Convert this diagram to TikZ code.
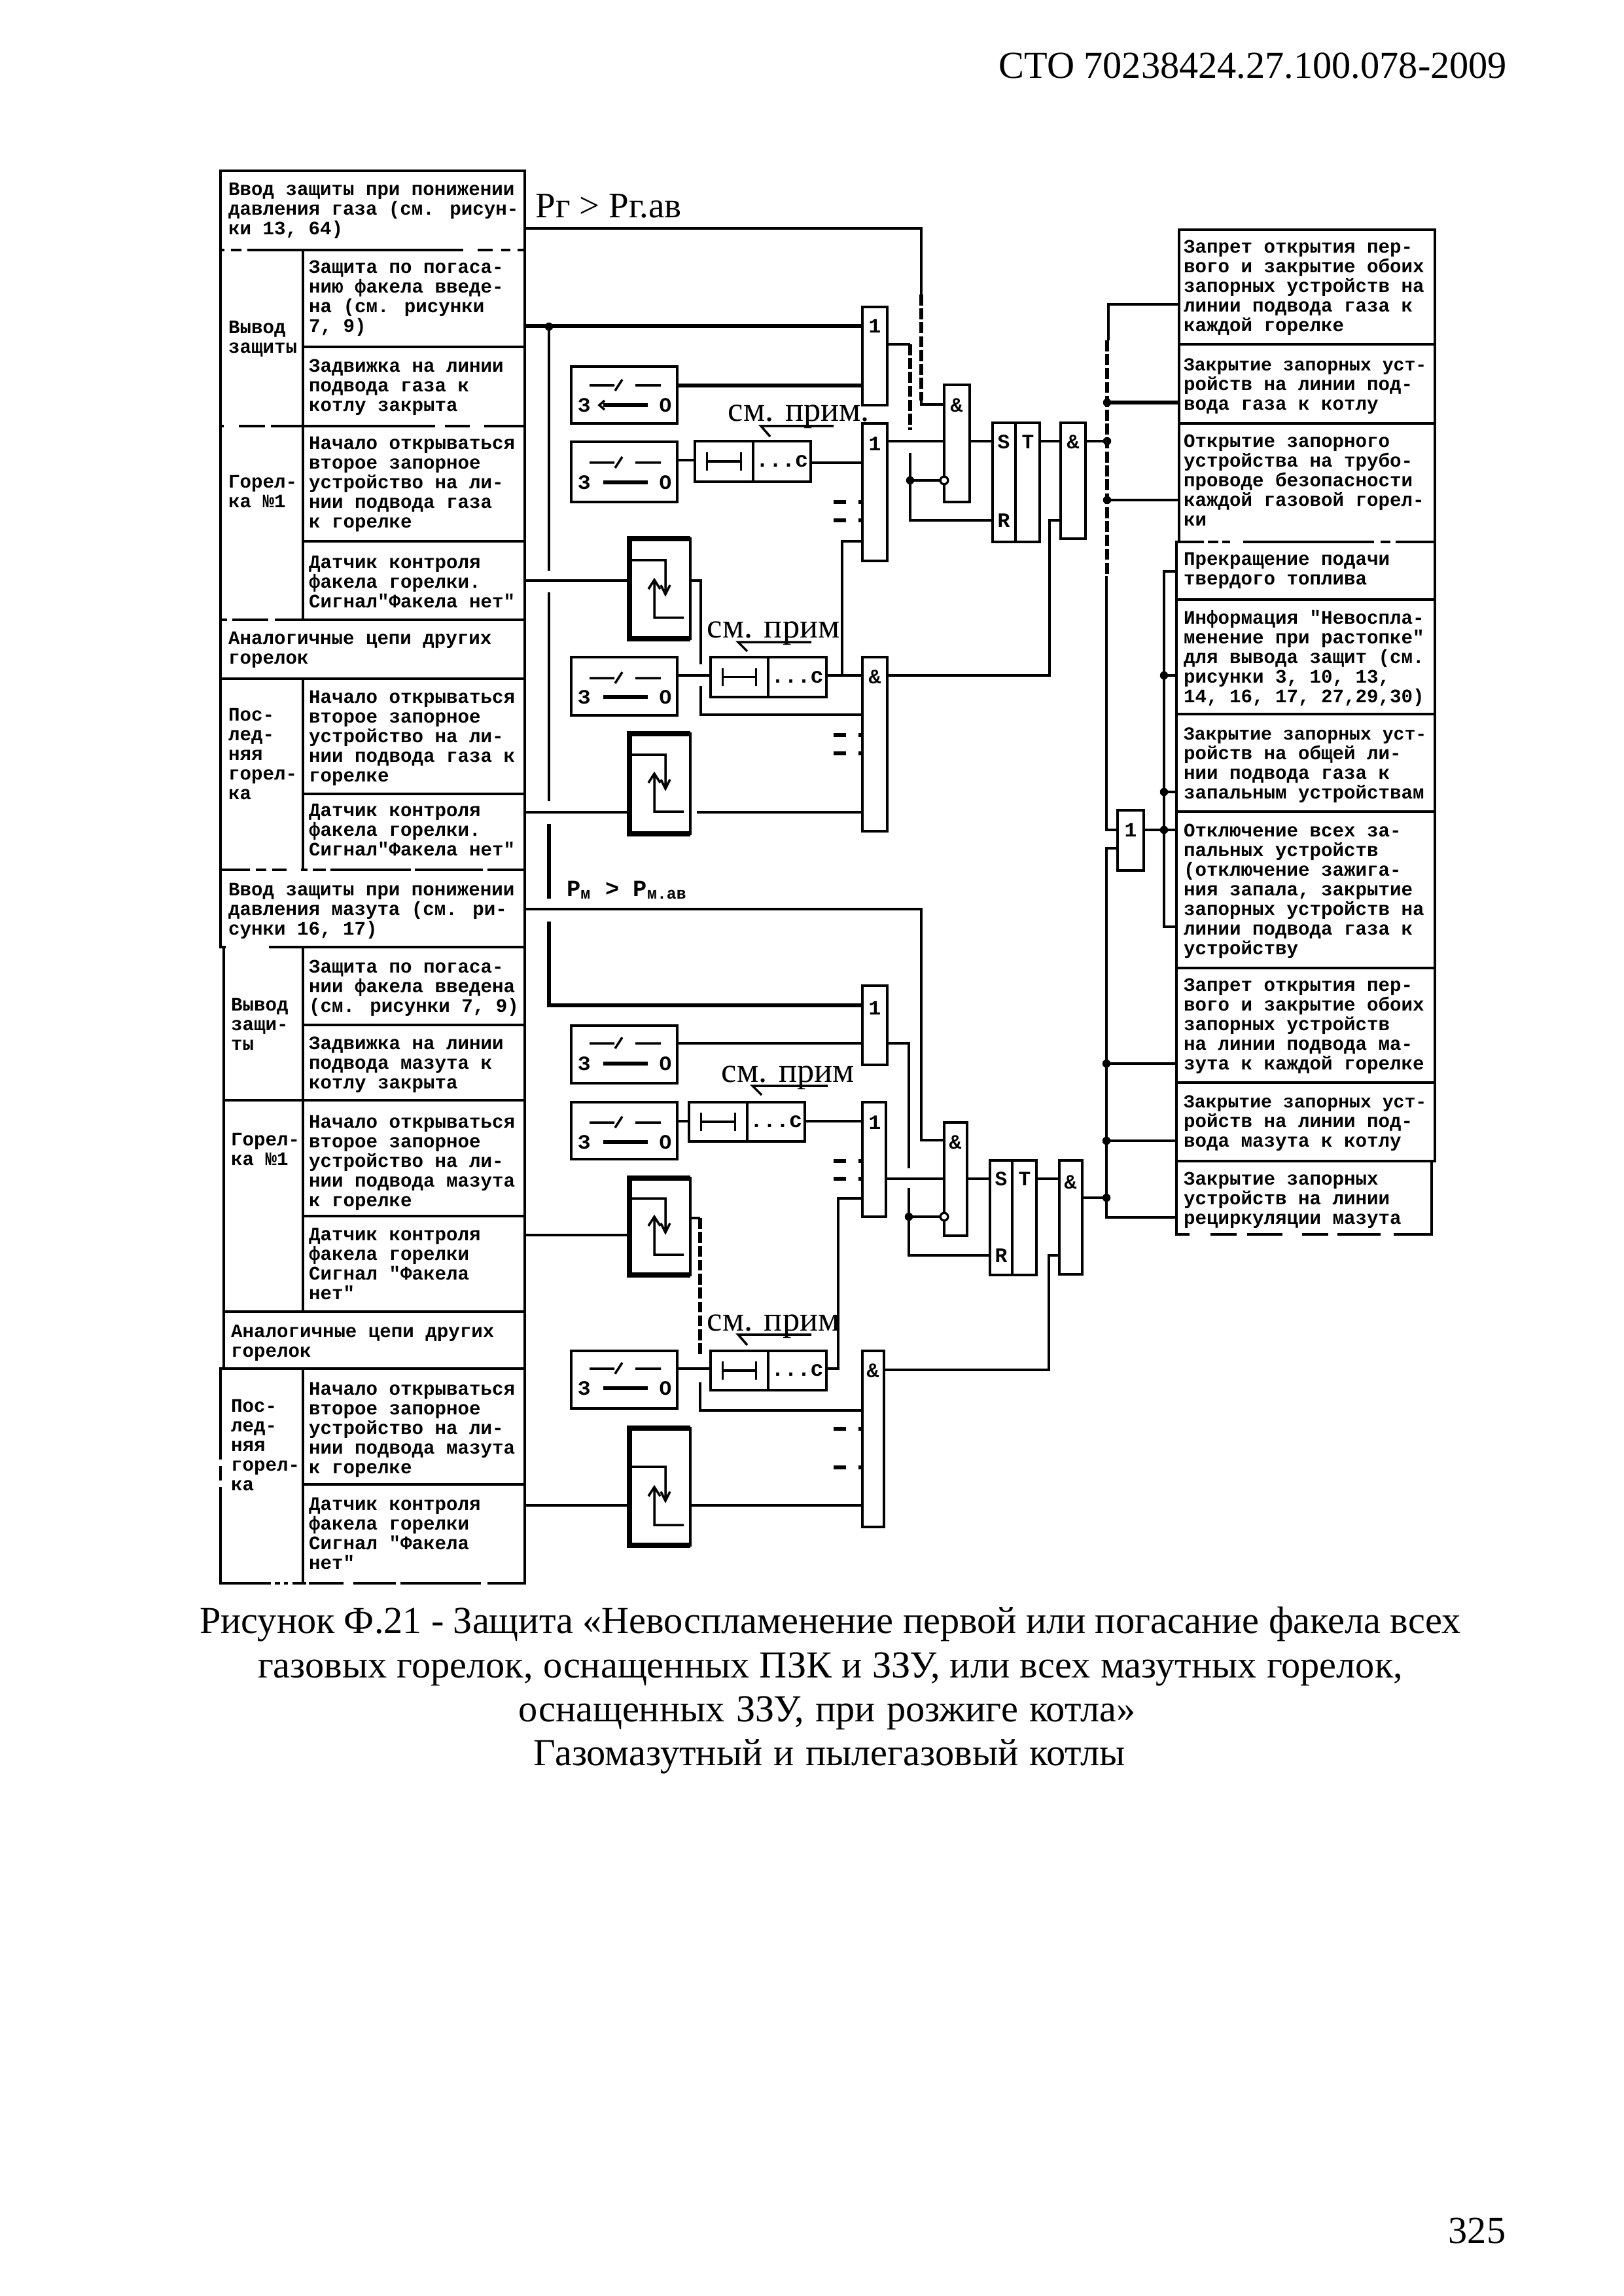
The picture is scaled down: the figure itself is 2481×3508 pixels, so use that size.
\documentclass[tikz,border=0pt]{standalone}
\usepackage{fontspec}
\setmainfont{Liberation Serif}
\newfontfamily\tabfont{Liberation Mono}
\tikzset{
  boxst/.style={draw,rectangle,inner sep=0pt,outer sep=0pt,line width=0.84pt},
  cellst/.style={boxst,line width=1pt},
  wire/.style={line width=0.84pt,line join=miter},
  heavy/.style={line width=1.3pt,line join=miter},
  noisy/.style={line width=1.35pt,dash pattern=on 4pt off 1.1pt},
  borderthick/.style={line width=1.7pt},
  tabtext/.style={font=\tabfont\bfseries\fontsize{7}{7.2}\selectfont,align=left,anchor=north west,inner sep=0pt,outer sep=0pt},
  symb/.style={font=\tabfont\bfseries\fontsize{7.5}{8}\selectfont,inner sep=0pt},
  notetxt/.style={font=\fontsize{12.6}{15}\selectfont,inner sep=0pt,anchor=base west},
  captxt/.style={font=\fontsize{14}{16}\selectfont,inner sep=0pt,anchor=base},
  dotst/.style={circle,fill=black,inner sep=0pt,minimum size=3pt},
  inv/.style={circle,draw,fill=white,inner sep=0pt,minimum size=2.8pt,line width=0.8pt},
  gapw/.style={white,line width=1.6pt},
}
\newcommand{\bx}[6][boxst]{%
  \pgfmathsetmacro\bxw{(#5-#3)*0.24}\pgfmathsetmacro\bxh{(#6-#4)*0.24}%
  \node[#1,minimum width=\bxw pt,minimum height=\bxh pt] (#2) at ({(#3+#5)/2},{(#4+#6)/2}) {};}
\newcommand{\ttxt}[4]{\node[tabtext] (#1) at (#2,#3-13) {#4};}
\newcommand{\tight}{\fontsize{6.75}{7.2}\selectfont}
\newcommand{\swbox}[5]{% name y1 y2 ytop ybot
  \bx{#1}{873}{#2}{1035}{#3}
  \draw[wire] (901,#4)--(939,#4) (940,#4+8)--(951,#4-9) (971,#4)--(1010,#4);
  \draw[heavy] (922,#5)--(990,#5);
  \node[symb] (#1z) at (893,#5) {З};
  \node[symb] (#1o) at (1017,#5) {О};}
\newcommand{\timerbox}[6]{% name x1 xmid x2 y1 y2
  \bx{#1l}{#2}{#5}{#3}{#6}
  \bx{#1r}{#3}{#5}{#4}{#6}
  \draw[wire] ([xshift=4.4pt]#1l.west) -- ([xshift=-4.4pt]#1l.east)
     ([xshift=4.4pt,yshift=3.3pt]#1l.west) -- ([xshift=4.4pt,yshift=-3.3pt]#1l.west)
     ([xshift=-4.4pt,yshift=3.3pt]#1l.east) -- ([xshift=-4.4pt,yshift=-3.3pt]#1l.east);
  \node[symb,font=\tabfont\bfseries\fontsize{8}{8}\selectfont] (#1t) at (#1r) {...с};}
\newcommand{\flamebox}[5]{% name y1 y2 yline ybot
  \bx{#1}{962}{#2}{1055}{#3}
  \draw[borderthick] ([yshift=0pt]#1.north east)--(#1.north west)--(#1.south west)--(#1.south east);
  \draw[wire] (965,#4)--(1017,#4)--(1017,#4+48) (1010,#4+38)--(1017,#4+52)--(1024,#4+38);
  \draw[wire] (1045,#5)--(1000,#5)--(1000,#5-56) (991,#5-44)--(1000,#5-58)--(1009,#5-44);}
\newcommand{\stubs}[2]{\draw[heavy] (1274,#2)--(1293,#2) (#1.west|-0,#2)--+(-6,0);}
\begin{document}
\begin{tikzpicture}[x=0.24pt,y=-0.24pt]
\useasboundingbox (0,0) rectangle (2481,3508);
% page texts
\node[captxt,anchor=base east] (hdr) at (2304,120) {СТО 70238424.27.100.078-2009};
\node[captxt,anchor=base east] (pgn) at (2302,3427) {325};
\node[captxt] (c1) at (1269,2495) {\makebox[462.7pt][s]{Рисунок Ф.21 - Защита «Невоспламенение первой или погасание факела всех}};
\node[captxt] (c2) at (1269,2563) {\makebox[420pt][s]{газовых горелок, оснащенных ПЗК и ЗЗУ, или всех мазутных горелок,}};
\node[captxt] (c3) at (1264,2630) {\makebox[226.3pt][s]{оснащенных ЗЗУ, при розжиге котла»}};
\node[captxt] (c4) at (1268,2697) {\makebox[217pt][s]{Газомазутный и пылегазовый котлы}};
% left table
\bx[cellst]{a1}{337}{261}{802}{382}
\bx[cellst]{a2}{337}{382}{463}{651}
\bx[cellst]{a3}{463}{382}{802}{530}
\bx[cellst]{a4}{463}{530}{802}{651}
\bx[cellst]{a5}{337}{651}{463}{947}
\bx[cellst]{a6}{463}{651}{802}{827}
\bx[cellst]{a7}{463}{827}{802}{947}
\bx[cellst]{a8}{337}{947}{802}{1037}
\bx[cellst]{a9}{337}{1037}{463}{1329}
\bx[cellst]{a10}{463}{1037}{802}{1213}
\bx[cellst]{a11}{463}{1213}{802}{1329}
\bx[cellst]{a12}{337}{1329}{802}{1447}
\bx[cellst]{a13}{342}{1447}{463}{1681}
\bx[cellst]{a14}{463}{1447}{802}{1566}
\bx[cellst]{a15}{463}{1566}{802}{1681}
\bx[cellst]{a16}{342}{1681}{463}{2004}
\bx[cellst]{a17}{463}{1681}{802}{1858}
\bx[cellst]{a18}{463}{1858}{802}{2004}
\bx[cellst]{a19}{342}{2004}{802}{2091}
\bx[cellst]{a20}{337}{2091}{463}{2419}
\bx[cellst]{a21}{463}{2091}{802}{2268}
\bx[cellst]{a22}{463}{2268}{802}{2419}
% broken stretches of the scanned table rules
\draw[gapw] (343,382)--(353,382) (369,382)--(378,382) (708,382)--(730,382) (753,382)--(766,382) (780,382)--(791,382);
\draw[gapw] (342,651)--(365,651) (405,651)--(414,651) (665,651)--(680,651) (718,651)--(740,651);
\draw[gapw] (347,947)--(355,947) (410,947)--(420,947);
\draw[gapw] (382,1329)--(391,1329) (407,1329)--(416,1329) (438,1329)--(460,1329) (470,1329)--(478,1329) (498,1329)--(505,1329) (628,1329)--(634,1329) (738,1329)--(745,1329);
\draw[gapw] (345,1447)--(411,1447);
\draw[gapw] (335,1450)--(335,1484);
\draw[gapw] (414,2419)--(420,2419) (428,2419)--(434,2419) (440,2419)--(447,2419) (468,2419)--(472,2419) (525,2419)--(540,2419) (605,2419)--(612,2419) (735,2419)--(745,2419);
\draw[gapw] (337,2262)--(337,2272) (337,2230)--(337,2240);
% cell texts
\ttxt{ta1}{349}{292}{Ввод защиты при понижении\\давления газа (см. рисун-\\ки 13, 64)}
\ttxt{ta2}{349}{503}{Вывод\\защиты}
\ttxt{ta3}{472}{411}{Защита по погаса-\\нию факела введе-\\на (см. рисунки\\7, 9)}
\ttxt{ta4}{472}{562}{Задвижка на линии\\подвода газа к\\котлу закрыта}
\ttxt{ta5}{349}{739}{Горел-\\ка №1}
\ttxt{ta6}{472}{680}{Начало открываться\\второе запорное\\устройство на ли-\\нии подвода газа\\к горелке}
\ttxt{ta7}{472}{862}{Датчик контроля\\факела горелки.\\Сигнал"Факела нет"}
\ttxt{ta8}{349}{978}{Аналогичные цепи других\\горелок}
\ttxt{ta9}{349}{1095}{Пос-\\лед-\\няя\\горел-\\ка}
\ttxt{ta10}{472}{1068}{Начало открываться\\второе запорное\\устройство на ли-\\нии подвода газа к\\горелке}
\ttxt{ta11}{472}{1241}{Датчик контроля\\факела горелки.\\Сигнал"Факела нет"}
\ttxt{ta12}{349}{1362}{Ввод защиты при понижении\\давления мазута (см. ри-\\сунки 16, 17)}
\ttxt{ta13}{353}{1538}{Вывод\\защи-\\ты}
\ttxt{ta14}{472}{1480}{Защита по погаса-\\нии факела введена\\(см. рисунки 7, 9)}
\ttxt{ta15}{472}{1597}{Задвижка на линии\\подвода мазута к\\котлу закрыта}
\ttxt{ta16}{353}{1744}{Горел-\\ка №1}
\ttxt{ta17}{472}{1717}{Начало открываться\\второе запорное\\устройство на ли-\\нии подвода мазута\\к горелке}
\ttxt{ta18}{472}{1889}{Датчик контроля\\факела горелки\\Сигнал "Факела\\нет"}
\ttxt{ta19}{353}{2037}{Аналогичные цепи других\\горелок}
\ttxt{ta20}{353}{2151}{Пос-\\лед-\\няя\\горел-\\ка}
\ttxt{ta21}{472}{2125}{Начало открываться\\второе запорное\\устройство на ли-\\нии подвода мазута\\к горелке}
\ttxt{ta22}{472}{2301}{Датчик контроля\\факела горелки\\Сигнал "Факела\\нет"}
% right table
\bx[cellst]{r1}{1802}{351}{2193}{526}
\bx[cellst]{r2}{1802}{526}{2193}{647}
\bx[cellst]{r3}{1802}{647}{2193}{828}
\bx[cellst]{r4}{1798}{828}{2193}{916}
\bx[cellst]{r5}{1798}{916}{2193}{1091}
\bx[cellst]{r6}{1798}{1091}{2193}{1240}
\bx[cellst]{r7}{1798}{1240}{2193}{1479}
\bx[cellst]{r8}{1798}{1479}{2193}{1654}
\bx[cellst]{r9}{1798}{1654}{2193}{1774}
\bx[cellst]{r10}{1798}{1774}{2188}{1886}
\draw[gapw] (1840,828)--(1846,828) (1862,828)--(1868,828) (1880,828)--(1900,828) (2100,828)--(2110,828) (2125,828)--(2133,828);
\draw[gapw] (1818,1886)--(1850,1886) (1890,1886)--(1906,1886) (1960,1886)--(1990,1886) (2030,1886)--(2044,1886) (2110,1886)--(2130,1886);
\ttxt{tr1}{1809}{380}{Запрет открытия пер-\\вого и закрытие обоих\\запорных устройств на\\линии подвода газа к\\каждой горелке}
\ttxt{tr2}{1809}{561}{\tight Закрытие запорных уст-\\ройств на линии под-\\вода газа к котлу}
\ttxt{tr3}{1809}{677}{Открытие запорного\\устройства на трубо-\\проводе безопасности\\каждой газовой горел-\\ки}
\ttxt{tr4}{1809}{857}{Прекращение подачи\\твердого топлива}
\ttxt{tr5}{1809}{945}{Информация "Невоспла-\\менение при растопке"\\для вывода защит (см.\\рисунки 3, 10, 13,\\14, 16, 17, 27,29,30)}
\ttxt{tr6}{1809}{1125}{\tight Закрытие запорных уст-\\ройств на общей ли-\\нии подвода газа к\\запальным устройствам}
\ttxt{tr7}{1809}{1272}{Отключение всех за-\\пальных устройств\\(отключение зажига-\\ния запала, закрытие\\запорных устройств на\\линии подвода газа к\\устройству}
\ttxt{tr8}{1809}{1508}{Запрет открытия пер-\\вого и закрытие обоих\\запорных устройств\\на линии подвода ма-\\зута к каждой горелке}
\ttxt{tr9}{1809}{1687}{\tight Закрытие запорных уст-\\ройств на линии под-\\вода мазута к котлу}
\ttxt{tr10}{1809}{1804}{Закрытие запорных\\устройств на линии\\рециркуляции мазута}
% gates
\bx{g1}{1318}{469}{1356}{619}
\bx{gB}{1318}{647}{1356}{857}
\bx{g3}{1318}{1004}{1356}{1270}
\bx{gC}{1443}{588}{1482}{767}
\bx{gD}{1621}{646}{1659}{823}
\bx{gE}{1708}{1238}{1748}{1330}
\bx{sr1l}{1517}{646}{1552}{828}
\bx{sr1r}{1552}{646}{1589}{828}
\bx{gA2}{1318}{1506}{1356}{1627}
\bx{gB2}{1318}{1684}{1354}{1859}
\bx{g4}{1318}{2064}{1351}{2333}
\bx{gC2}{1443}{1715}{1478}{1888}
\bx{gD2}{1619}{1773}{1654}{1947}
\bx{sr2l}{1513}{1773}{1547}{1948}
\bx{sr2r}{1547}{1773}{1584}{1948}
\node[symb] (lg1) at (1337,498) {1};
\node[symb] (lgB) at (1337,678) {1};
\node[symb] (lg3) at (1337,1034) {\&};
\node[symb] (lgC) at (1462,619) {\&};
\node[symb] (lgD) at (1640,675) {\&};
\node[symb] (lgE) at (1728,1268) {1};
\node[symb] (ls1) at (1534,675) {S};
\node[symb] (lt1) at (1571,675) {T};
\node[symb] (lr1) at (1534,795) {R};
\node[symb] (lgA2) at (1337,1540) {1};
\node[symb] (lgB2) at (1337,1715) {1};
\node[symb] (lg4) at (1334,2094) {\&};
\node[symb] (lgC2) at (1460,1745) {\&};
\node[symb] (lgD2) at (1636,1806) {\&};
\node[symb] (ls2) at (1530,1801) {S};
\node[symb] (lt2) at (1566,1801) {T};
\node[symb] (lr2) at (1530,1918) {R};
% switches, timers, flame sensors
\swbox{sw1}{560}{647}{589}{619}
\swbox{sw2}{675}{767}{707}{737}
\swbox{sw3}{1004}{1093}{1036}{1065}
\swbox{sw4}{1567}{1655}{1594}{1625}
\swbox{sw5}{1684}{1771}{1715}{1745}
\swbox{sw6}{2064}{2152}{2091}{2121}
\draw[wire] (924,612)--(916,619)--(924,626);
\timerbox{t1}{1062}{1151}{1239}{674}{736}
\timerbox{t2}{1086}{1174}{1263}{1004}{1065}
\timerbox{t3}{1053}{1142}{1230}{1684}{1744}
\timerbox{t4}{1086}{1174}{1263}{2064}{2124}
\flamebox{f1}{823}{976}{856}{944}
\flamebox{f2}{1121}{1274}{1153}{1240}
\flamebox{f3}{1800}{1948}{1831}{1917}
\flamebox{f4}{2182}{2361}{2241}{2330}
% labels
\node[notetxt,font=\fontsize{13.2}{16}\selectfont] (pg) at (818,333) {Рг > Рг.ав};
\node[tabtext,anchor=base west,font=\tabfont\bfseries\fontsize{8.5}{10}\selectfont] (pm) at (866,1369) {Р\textsubscript{м} > Р\textsubscript{м.ав}};
\node[notetxt] (n1) at (1112,644) {см. прим.};
\draw[wire] (1274,651)--(1163,651)--(1177,667);
\node[notetxt] (n2) at (1080,974) {см. прим};
\draw[wire] (1240,981)--(1128,981)--(1142,995);
\node[notetxt] (n3) at (1102,1653) {см. прим};
\draw[wire] (1265,1659)--(1150,1659)--(1164,1673);
\node[notetxt] (n4) at (1080,2033) {см. прим};
\draw[wire] (1240,2039)--(1128,2039)--(1142,2055);
% wires upper
\draw[wire] (a1.east|-0,349)--(1408,349)--(1408,450);
\draw[noisy] (1408,450)--(1408,612);
\draw[wire] (1408,612)--(1408,618)--(gC.west|-0,618);
\draw[heavy] (a3.east|-0,498)--(g1.west|-0,498);
\draw[wire] (839,499)--(839,872);
\draw[wire] (839,905)--(839,1224);
\draw[heavy] (839,1259)--(839,1373);
\draw[heavy] (839,1408)--(839,1536)--(gA2.west|-0,1536);
\node[dotst] (d0) at (839,499) {};
\draw[heavy] (sw1.east|-0,589)--(g1.west|-0,589);
\draw[wire] (sw2.east|-0,703)--(t1l.west|-0,703);
\draw[wire] (t1r.east|-0,707)--(gB.west|-0,707);
\stubs{gB}{767}\stubs{gB}{795}
\draw[wire] (g1.east|-0,526)--(1391,526);
\draw[noisy] (1391,526)--(1391,657);
\draw[wire] (1391,692)--(1391,795)--(sr1l.west|-0,795);
\node[inv] (i1) at (gC.west|-0,734) {};
\draw[wire] (1391,734)--(i1);
\node[dotst] (d1) at (1391,734) {};
\draw[wire] (gB.east|-0,674)--(gC.west|-0,674);
\draw[wire] (gC.east|-0,674)--(sr1l.west|-0,674);
\draw[wire] (sr1r.east|-0,674)--(gD.west|-0,674);
\draw[wire] (gD.east|-0,674)--(1692,674);
\draw[wire] (g3.east|-0,1032)--(1604,1032)--(1604,795)--(gD.west|-0,795);
\draw[wire] (a7.east|-0,887)--(f1.west|-0,887);
\draw[wire] (f1.east|-0,887)--(1071,887)--(1071,1015);
\draw[wire] (1071,1048)--(1071,1092)--(g3.west|-0,1092);
\draw[wire] (sw3.east|-0,1032)--(t2l.west|-0,1032);
\draw[wire] (t2r.east|-0,1032)--(g3.west|-0,1032);
\draw[wire] (1287,1032)--(1287,827)--(gB.west|-0,827);
\stubs{g3}{1123}\stubs{g3}{1151}
\draw[wire] (a11.east|-0,1241)--(f2.west|-0,1241);
\draw[wire,shorten <=2.5pt] (f2.east|-0,1241)--(g3.west|-0,1241);
% wires lower
\draw[wire] (a12.east|-0,1389)--(1408,1389)--(1408,1742)--(gC2.west|-0,1742);
\draw[wire] (sw4.east|-0,1594)--(gA2.west|-0,1594);
\draw[wire] (gA2.east|-0,1594)--(1389,1594)--(1389,1785);
\draw[wire] (1389,1815)--(1389,1918)--(sr2l.west|-0,1918);
\node[inv] (i2) at (gC2.west|-0,1859) {};
\draw[wire] (1389,1859)--(i2);
\node[dotst] (d2) at (1389,1859) {};
\draw[wire] (sw5.east|-0,1713)--(t3l.west|-0,1713);
\draw[wire] (t3r.east|-0,1713)--(gB2.west|-0,1713);
\stubs{gB2}{1774}\stubs{gB2}{1801}
\draw[wire] (gB2.east|-0,1801)--(gC2.west|-0,1801);
\draw[wire] (gC2.east|-0,1801)--(sr2l.west|-0,1801);
\draw[wire] (sr2r.east|-0,1801)--(gD2.west|-0,1801);
\draw[wire] (gD2.east|-0,1830)--(1691,1830);
\draw[wire] (a18.east|-0,1887)--(f3.west|-0,1887);
\draw[wire] (f3.east|-0,1861)--(1070,1861);
\draw[noisy] (1070,1861)--(1070,2073);
\draw[wire] (1070,2112)--(1070,2155)--(g4.west|-0,2155);
\draw[wire] (sw6.east|-0,2091)--(t4l.west|-0,2091);
\draw[wire] (t4r.east|-0,2091)--(1281,2091)--(1281,1831)--(gB2.west|-0,1831);
\stubs{g4}{2183}\stubs{g4}{2242}
\draw[wire] (a22.east|-0,2300)--(f4.west|-0,2300);
\draw[wire] (f4.east|-0,2300)--(g4.west|-0,2300);
\draw[wire] (g4.east|-0,2093)--(1603,2093)--(1603,1918)--(gD2.west|-0,1918);
% output buses
\draw[wire] (r1.west|-0,465)--(1694,465)--(1694,520);
\draw[noisy] (1692,520)--(1692,880);
\draw[wire] (1691,880)--(1691,1268)--(gE.west|-0,1268);
\draw[heavy] (1692,615)--(r2.west|-0,615);
\draw[wire] (1692,764)--(r3.west|-0,764);
\node[dotst] at (1692,615) {};
\node[dotst] at (1692,674) {};
\node[dotst] at (1692,764) {};
\draw[wire] (gE.west|-0,1296)--(1691,1296)--(1691,1860)--(r10.west|-0,1860);
\draw[wire] (1691,1625)--(r8.west|-0,1625);
\draw[wire] (1691,1743)--(r9.west|-0,1743);
\node[dotst] at (1691,1625) {};
\node[dotst] at (1691,1743) {};
\node[dotst] at (1691,1830) {};
\draw[wire] (gE.east|-0,1268)--(1779,1268);
\draw[wire] (r4.west|-0,873)--(1779,873)--(1779,1416)--(r7.west|-0,1416);
\draw[wire] (1779,1032)--(r5.west|-0,1032);
\draw[wire] (1779,1210)--(r6.west|-0,1210);
\draw[wire] (1779,1268)--(r7.west|-0,1268);
\node[dotst] at (1779,1032) {};
\node[dotst] at (1779,1210) {};
\node[dotst] at (1779,1268) {};
\end{tikzpicture}
\end{document}
